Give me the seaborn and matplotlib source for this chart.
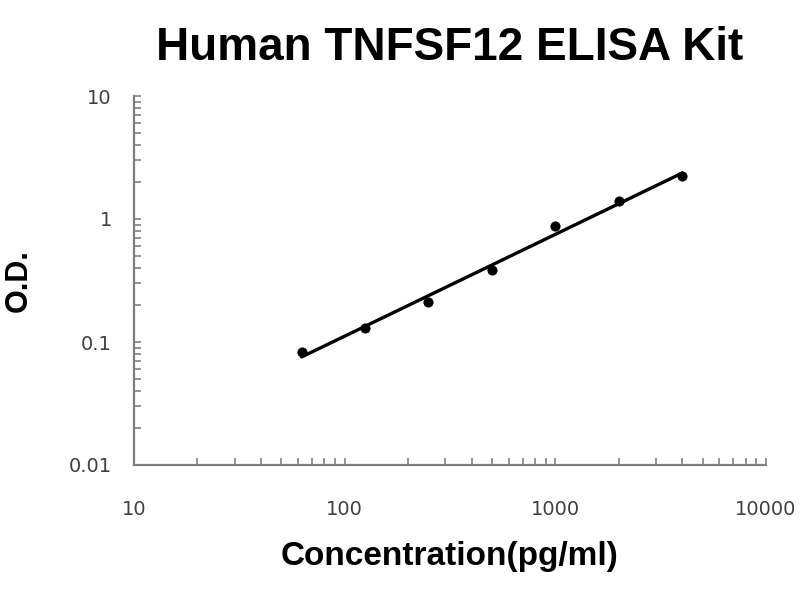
import numpy as np
import pandas as pd
import seaborn as sns
import matplotlib.pyplot as plt
from matplotlib.ticker import LogLocator, FixedLocator, FixedFormatter, NullFormatter

# standard curve data
conc = [62.5, 125, 250, 500, 1000, 2000, 4000]
od = [0.083, 0.130, 0.211, 0.385, 0.877, 1.40, 2.24]

x_ticks = [10, 100, 1000, 10000]
x_tick_labels = ["10", "100", "1000", "10000"]
y_ticks = [0.01, 0.1, 1, 10]
y_tick_labels = ["0.01", "0.1", "1", "10"]

df = pd.DataFrame({"conc": conc, "od": od})

# log-log linear fit for the trend line
slope, icpt = np.polyfit(np.log10(df["conc"]), np.log10(df["od"]), 1)
fit = pd.DataFrame({"conc": [conc[0], conc[-1]]})
fit["od"] = 10 ** (icpt + slope * np.log10(fit["conc"]))

sns.set_style("white")
plt.rcParams['font.family'] = ['Liberation Sans', 'DejaVu Sans']

fig = plt.figure(figsize=(8, 6), dpi=100)
ax = fig.add_axes([0.1675, 0.225, 0.79, 0.615])

ax.set_xscale("log")
ax.set_yscale("log")

sns.lineplot(data=fit, x="conc", y="od", color="black", linewidth=2.4, ax=ax)
sns.scatterplot(data=df, x="conc", y="od", color="black", s=45, edgecolor="black", ax=ax, zorder=3)

ax.set_xlim(10, 10000)
ax.set_ylim(0.01, 10)

ax.xaxis.set_major_locator(FixedLocator(x_ticks))
ax.xaxis.set_major_formatter(FixedFormatter(x_tick_labels))
ax.yaxis.set_major_locator(FixedLocator(y_ticks))
ax.yaxis.set_major_formatter(FixedFormatter(y_tick_labels))
ax.xaxis.set_minor_locator(LogLocator(base=10, subs=np.arange(2, 10)))
ax.yaxis.set_minor_locator(LogLocator(base=10, subs=np.arange(2, 10)))
ax.xaxis.set_minor_formatter(NullFormatter())
ax.yaxis.set_minor_formatter(NullFormatter())

sns.despine(ax=ax)
for s in ["left", "bottom"]:
    ax.spines[s].set_color("#7f7f7f")
    ax.spines[s].set_linewidth(1.6)

ax.tick_params(which="both", bottom=True, left=True, direction="in",
               color="#7f7f7f", width=1.2, length=5)
ax.tick_params(which="major", labelsize=14, labelcolor="#404040")
for lbl in ax.get_xticklabels() + ax.get_yticklabels():
    lbl.set_family("DejaVu Sans")
ax.tick_params(axis="x", which="major", pad=25)
ax.tick_params(axis="y", which="major", pad=16)

ax.set_xlabel("Concentration(pg/ml)", fontsize=24, fontweight="bold", color="black", labelpad=16)
ax.set_ylabel("O.D.", fontsize=22, fontweight="bold", color="black")
ax.yaxis.set_label_coords(-0.158, 0.5)
ax.set_title("Human TNFSF12 ELISA Kit", fontsize=33, fontweight="bold", color="black", pad=26)

fig.savefig("out.png", dpi=100)
